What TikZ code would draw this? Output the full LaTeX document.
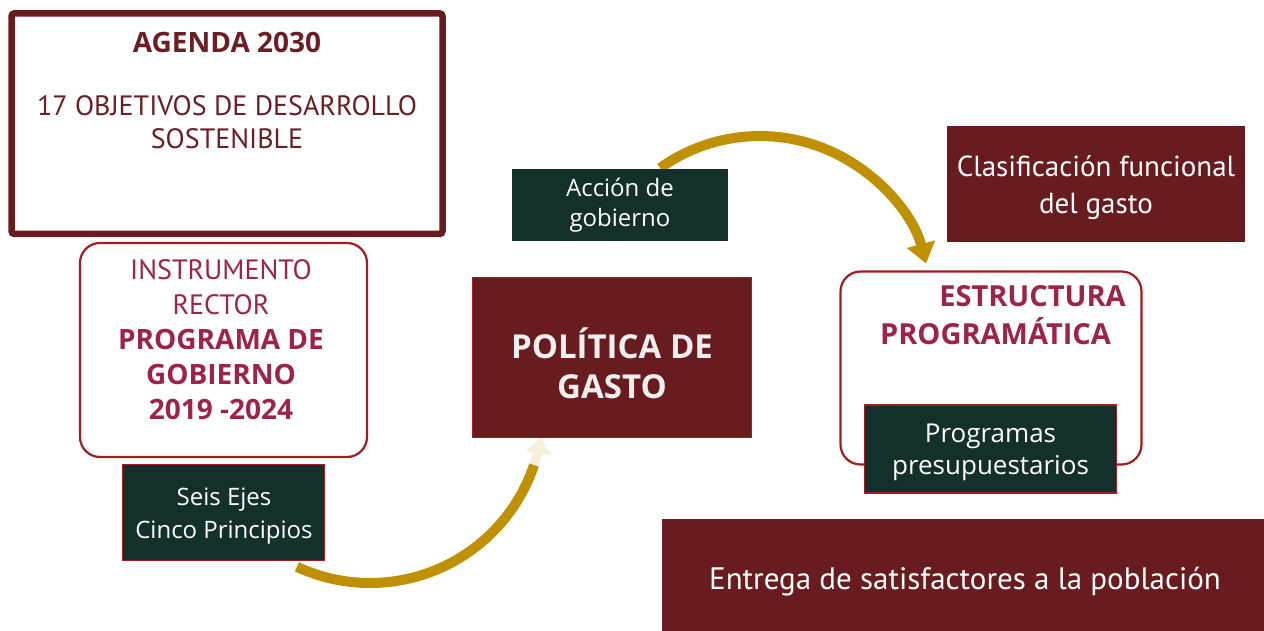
\documentclass[tikz,border=0pt]{standalone}
\usepackage{fontspec}
\setmainfont{PT Sans}
\newfontfamily\osans{Open Sans}
\usetikzlibrary{arrows.meta}
\definecolor{maroon}{HTML}{691C20}
\definecolor{dgreen}{HTML}{13302A}
\definecolor{gold}{HTML}{BF9000}
\definecolor{pale}{HTML}{F5EFDC}
\definecolor{crimson}{HTML}{9D2449}
\definecolor{bred}{HTML}{A01D22}
\definecolor{agtext}{HTML}{6B1E24}
\definecolor{offwhite}{HTML}{F0EEEE}
\newcommand{\reg}[1]{\fontsize{#1}{35}\selectfont}
\newcommand{\bld}[1]{\osans\bfseries\fontsize{#1}{35}\selectfont}
\begin{document}
\begin{tikzpicture}[x=1pt,y=-1pt,
  darkbox/.style={draw=bred, line width=1.2pt, fill=dgreen, inner sep=0pt},
  plaingreen/.style={fill=dgreen, text=white, inner sep=0pt, align=center, font=\osans\fontsize{24}{30}\selectfont},
  redbox/.style={fill=maroon, inner sep=0pt},
  roundbox/.style={draw=bred, line width=2.2pt, rounded corners=20pt, fill=white, inner sep=0pt},
  goldline/.style={draw=gold, line width=10pt},
  paleline/.style={draw=pale, line width=9pt},
  txt/.style={inner sep=0pt, align=center},
  greentxt/.style={txt, text=white, font=\osans\fontsize{24}{33}\selectfont},
  redtxt/.style={txt, text=white},
]
\useasboundingbox[fill=white] (0,0) rectangle (1264,631);

% arrows (drawn first, boxes cover their ends)
\coordinate (a1s) at (660.1,168);
\draw[goldline, -{Triangle[length=20pt,width=28pt]}] (a1s) arc[start angle=125.5, end angle=15, radius=172pt] coordinate (a1e);
\coordinate (a2s) at (296.9,566.8);
\draw[goldline] (a2s) arc[start angle=-115, end angle=-18.5, radius=173pt] coordinate (a2m);
\draw[paleline, -{Triangle[length=15pt,width=25pt]}] (a2m) arc[start angle=-18.5, end angle=-9.4, radius=173pt] coordinate (a2e);

% Agenda 2030 box
\node[draw=maroon, line width=6.5pt, rounded corners=3pt, minimum width=431pt, minimum height=220.7pt, inner sep=0pt] (agenda) at (227,123.65) {};
\node[txt, text=agtext, font=\bld{28}] (agt) at (227,42) {AGENDA 2030};
\node[txt, text=agtext, font=\fontsize{28}{33}\selectfont] (agb) at (227,122) {17 OBJETIVOS DE DESARROLLO\\SOSTENIBLE};

% Instrumento rector
\node[roundbox, minimum width=287pt, minimum height=214pt] (inst) at (223.5,350) {};
\node[txt, text=crimson, font=\fontsize{28}{35}\selectfont] (instt) at (221,340) {\reg{28}INSTRUMENTO\\ \reg{28}RECTOR\\ \bld{28}PROGRAMA DE\\ \bld{28}GOBIERNO\\ \bld{28}2019 -2024};

% Seis ejes
\node[darkbox, minimum width=202pt, minimum height=96pt] (seis) at (223.5,512.5) {};
\node[greentxt] (seist) at (224,516.5) {Seis Ejes\\Cinco Principios};

% Accion de gobierno
\node[plaingreen, minimum width=216pt, minimum height=72pt] (accion) at (620,205) {Acción de\\gobierno};

% Politica de gasto
\node[redbox, draw=bred, line width=1.2pt, minimum width=279pt, minimum height=160pt] (pol) at (612,357.5) {};
\node[txt, text=offwhite, font=\osans\bfseries\fontsize{33}{40}\selectfont] (polt) at (612,363) {POLÍTICA DE\\GASTO};

% Clasificacion funcional
\node[redbox, minimum width=298pt, minimum height=116pt] (clas) at (1096,184) {};
\node[redtxt, font=\fontsize{29}{37}\selectfont] (clast) at (1096,188) {Clasificación funcional\\del gasto};

% Estructura programatica
\node[roundbox, minimum width=301pt, minimum height=193pt] (estr) at (991,368) {};
\node[txt, text=crimson, font=\bld{29}] (est1) at (1032.5,296) {ESTRUCTURA};
\node[txt, text=crimson, font=\bld{29}] (est2) at (995.5,331) {PROGRAMÁTICA};

% Programas presupuestarios
\node[darkbox, minimum width=252pt, minimum height=88pt] (prog) at (990.5,449) {};
\node[greentxt, font=\osans\fontsize{26}{32}\selectfont] (progt) at (990.5,452) {Programas\\presupuestarios};

% Entrega
\node[redbox, minimum width=602pt, minimum height=112pt] (entrega) at (963,575) {};
\node[redtxt, font=\fontsize{31}{37}\selectfont] (entregat) at (965,582) {Entrega de satisfactores a la población};
\end{tikzpicture}
\end{document}
